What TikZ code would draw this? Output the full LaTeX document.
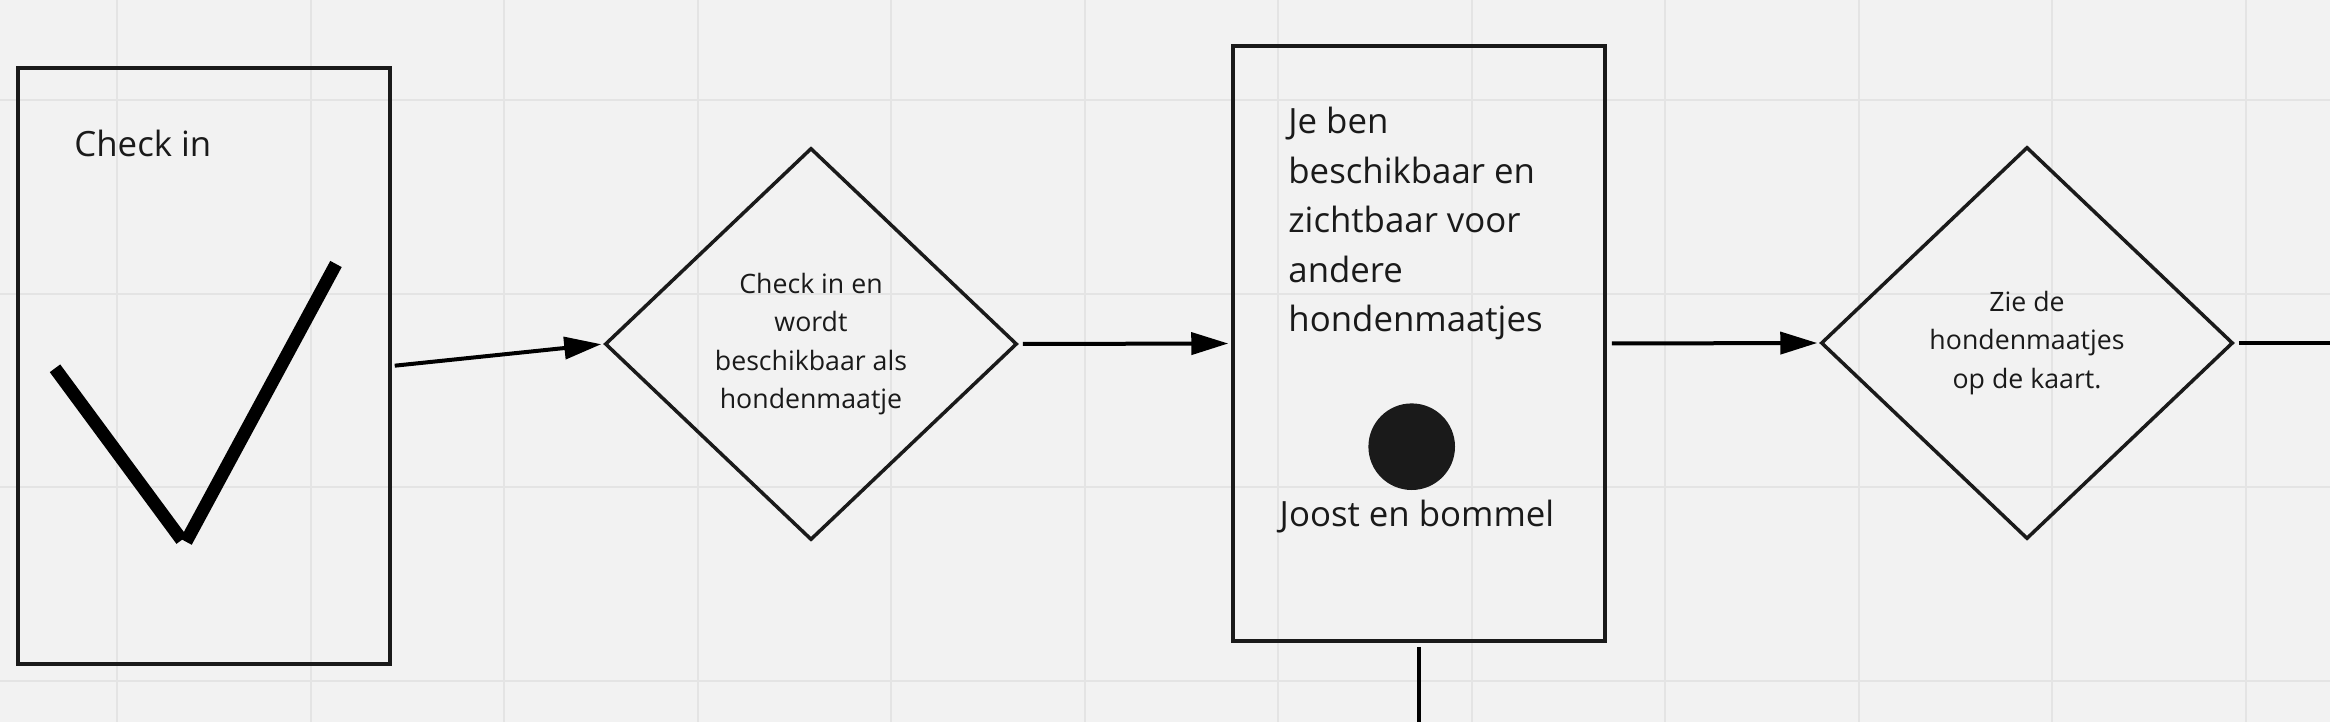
\documentclass[tikz,border=0pt]{standalone}
\usepackage{fontspec}
\setmainfont{Open Sans}
\usetikzlibrary{shapes.geometric,arrows.meta}
\definecolor{bg}{HTML}{F2F2F2}
\definecolor{gridc}{HTML}{E4E4E4}
\definecolor{ink}{HTML}{1A1A1A}
\begin{document}
\begin{tikzpicture}[x=0.5pt,y=-0.5pt,
  box/.style={draw=ink,line width=1.75pt,rectangle,inner sep=0pt},
  dia/.style={draw=ink,line width=1.75pt,diamond,inner sep=0pt,minimum width=206pt,minimum height=196pt,font=\fontsize{13.35}{19.3}\selectfont,align=center,text=ink},
  big/.style={font=\fontsize{17.4}{24.7}\selectfont,text=ink,inner sep=0pt},
  tick/.style={draw=black,line width=6.5pt},
  conn/.style={draw=black,line width=2pt},
  arr/.style={conn,-{Triangle[length=18.5pt,width=11pt]}}]
\fill[bg] (0,0) rectangle (2330,722);
\useasboundingbox (0,0) rectangle (2330,722);
\foreach \i in {0,...,11} \draw[gridc,line width=1pt] ({117+193.5*\i},0) -- ({117+193.5*\i},722);
\foreach \j in {0,...,3} \draw[gridc,line width=1pt] (0,{100+193.5*\j}) -- (2330,{100+193.5*\j});

\node[box,minimum width=186pt,minimum height=298pt] (b1) at (204,366) {};
\node[big,anchor=base west] (t1) at (74,156.6) {Check in};
\draw[tick] (55,368.3) -- (181.7,540);
\draw[tick] (186,541.7) -- (336,264);

\node[dia] (d1) at (811,344) {Check in en\\wordt\\beschikbaar als\\hondenmaatje};

\node[box,minimum width=186pt,minimum height=297.5pt] (b2) at (1419,343.5) {};
\node[big,anchor=base west,align=left] (t2) at (1288,331.5) {Je ben\\beschikbaar en\\zichtbaar voor\\andere\\hondenmaatjes};
\node[circle,fill=ink,minimum size=43.3pt,inner sep=0pt] (dot) at (1411.7,446.7) {};
\node[big,anchor=base] (t3) at (1417,526) {Joost en bommel};

\node[dia] (d2) at (2027,343) {Zie de\\hondenmaatjes\\op de kaart.};

\coordinate (e1) at (2330,343);
\coordinate (e2) at (1419,722);

\draw[arr,shorten <=1.5pt,shorten >=1pt] (b1.east) -- (d1.west);
\draw[arr,shorten <=2pt,shorten >=1.5pt] (d1.east) -- (b2.west);
\draw[arr,shorten <=2.5pt,shorten >=1pt] (b2.east) -- (d2.west);
\draw[conn,shorten <=2pt] (d2.east) -- (e1);
\draw[conn,shorten <=2pt] (b2.south) -- (e2);
\end{tikzpicture}
\end{document}
